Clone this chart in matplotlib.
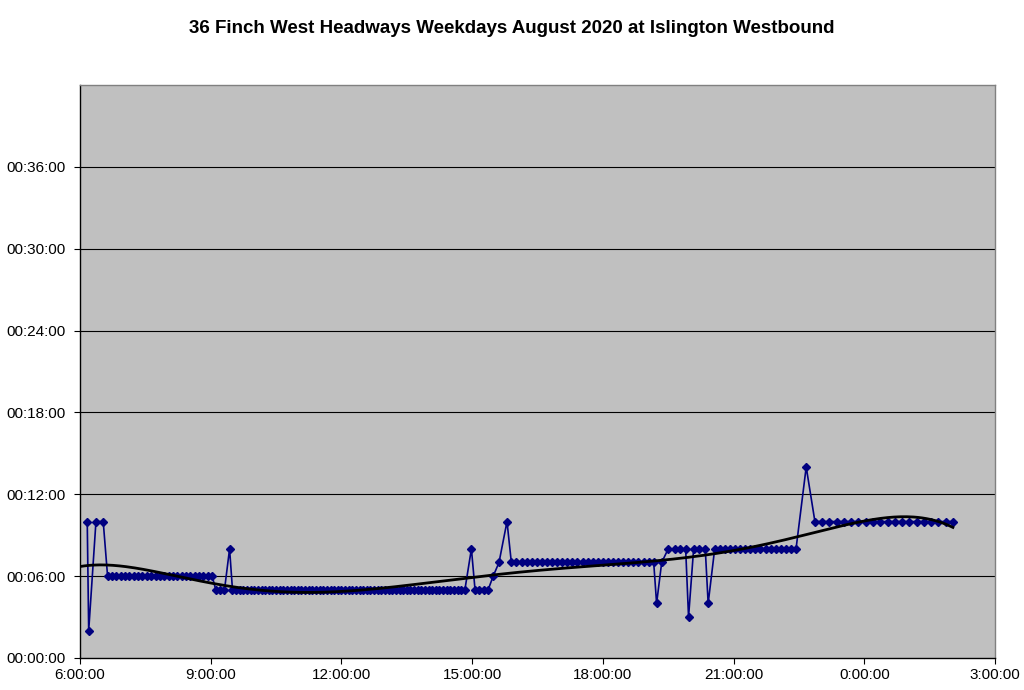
import numpy as np
import matplotlib
matplotlib.use("Agg")
import matplotlib.pyplot as plt
from matplotlib.ticker import FixedLocator, FuncFormatter

plt.rcParams['font.family'] = ['Liberation Sans', 'DejaVu Sans']

title = "36 Finch West Headways Weekdays August 2020 at Islington Westbound"

# Departure times (minutes after midnight; values > 1440 are after midnight)
trip_minutes = [
    370, 372, 382, 392,
    398, 404, 410, 416, 422, 428, 434, 440, 446, 452,
    458, 464, 470, 476, 482, 488, 494, 500, 506, 512,
    518, 524, 530, 536, 542,
    547, 553, 559, 566,
    570, 575, 580, 585, 590, 595, 600, 605, 610, 615,
    620, 625, 630, 635, 640, 645, 650, 655, 660, 665,
    670, 675, 680, 685, 690, 695, 700, 705, 710, 715,
    720, 725, 730, 735, 740, 745, 750, 755, 760, 765,
    770, 775, 780, 785, 790, 795, 800, 805, 810, 815,
    820, 825, 830, 835, 840, 845, 850, 855, 860, 865,
    870, 875, 880, 885, 890,
    899, 904, 910, 916, 922, 929, 937, 948,
    954, 961, 968, 975, 982, 989, 996, 1003, 1010, 1017,
    1024, 1031, 1038, 1045, 1052, 1059, 1066, 1073, 1080, 1087,
    1094, 1101, 1108, 1115, 1122, 1129, 1136, 1143, 1150,
    1154, 1161, 1170, 1179, 1186, 1194, 1198, 1205, 1213, 1221, 1225,
    1234, 1241, 1248, 1255, 1262, 1269, 1276, 1283, 1290, 1297,
    1304, 1311, 1318, 1325, 1332, 1339, 1346,
    1360,
    1372, 1382, 1392, 1402, 1412, 1422, 1432, 1442, 1452, 1462,
    1472, 1482, 1492, 1502, 1512, 1522, 1532, 1542, 1552, 1562,
]

# Headway in minutes for each trip
headway_min = [
    10, 2, 10, 10,
    6, 6, 6, 6, 6, 6, 6, 6, 6, 6,
    6, 6, 6, 6, 6, 6, 6, 6, 6, 6,
    6, 6, 6, 6, 6,
    5, 5, 5, 8,
    5, 5, 5, 5, 5, 5, 5, 5, 5, 5,
    5, 5, 5, 5, 5, 5, 5, 5, 5, 5,
    5, 5, 5, 5, 5, 5, 5, 5, 5, 5,
    5, 5, 5, 5, 5, 5, 5, 5, 5, 5,
    5, 5, 5, 5, 5, 5, 5, 5, 5, 5,
    5, 5, 5, 5, 5, 5, 5, 5, 5, 5,
    5, 5, 5, 5, 5,
    8, 5, 5, 5, 5, 6, 7, 10,
    7, 7, 7, 7, 7, 7, 7, 7, 7, 7,
    7, 7, 7, 7, 7, 7, 7, 7, 7, 7,
    7, 7, 7, 7, 7, 7, 7, 7, 7,
    4, 7, 8, 8, 8, 8, 3, 8, 8, 8, 4,
    8, 8, 8, 8, 8, 8, 8, 8, 8, 8,
    8, 8, 8, 8, 8, 8, 8,
    14,
    10, 10, 10, 10, 10, 10, 10, 10, 10, 10,
    10, 10, 10, 10, 10, 10, 10, 10, 10, 10,
]
assert len(trip_minutes) == len(headway_min)

x_ticks_h = [6, 9, 12, 15, 18, 21, 24, 27]
y_ticks_min = [0, 6, 12, 18, 24, 30, 36]

x = np.array(trip_minutes) / 60.0
y = np.array(headway_min, dtype=float)

fig = plt.figure(figsize=(10.24, 6.90), dpi=100)
fig.patch.set_facecolor('white')
ax = fig.add_axes([0.0781, 0.0464, 0.8936, 0.8304])
ax.set_facecolor('#C0C0C0')

ax.set_xlim(6, 27)
ax.set_ylim(0, 42)

for v in y_ticks_min[1:]:
    ax.axhline(v, color='black', linewidth=0.8, zorder=1)

ax.plot(x, y, color='#000080', linewidth=1.2, marker='D', markersize=4.5,
        markerfacecolor='#000080', markeredgecolor='#000080', zorder=3)

# 6th-order polynomial trendline
poly = np.polynomial.Polynomial.fit(x, y, 6)
xt = np.linspace(6.0, x.max(), 400)
ax.plot(xt, poly(xt), color='black', linewidth=2.0, zorder=4)

ax.xaxis.set_major_locator(FixedLocator(x_ticks_h))
ax.xaxis.set_major_formatter(FuncFormatter(lambda v, p: f"{int(round(v)) % 24}:00:00"))
ax.yaxis.set_major_locator(FixedLocator(y_ticks_min))
ax.yaxis.set_major_formatter(FuncFormatter(lambda v, p: f"00:{int(round(v)):02d}:00"))

ax.tick_params(axis='both', direction='out', length=4, width=0.8, labelsize=11, colors='black')
ax.tick_params(axis='y', pad=6)
for s in ax.spines.values():
    s.set_color('#808080')
    s.set_linewidth(1.0)
ax.spines['left'].set_color('black')
ax.spines['bottom'].set_color('black')

fig.text(0.5, 0.958, title, ha='center', va='center', fontsize=13.5, fontweight='bold')

fig.savefig('out.png', dpi=100)
